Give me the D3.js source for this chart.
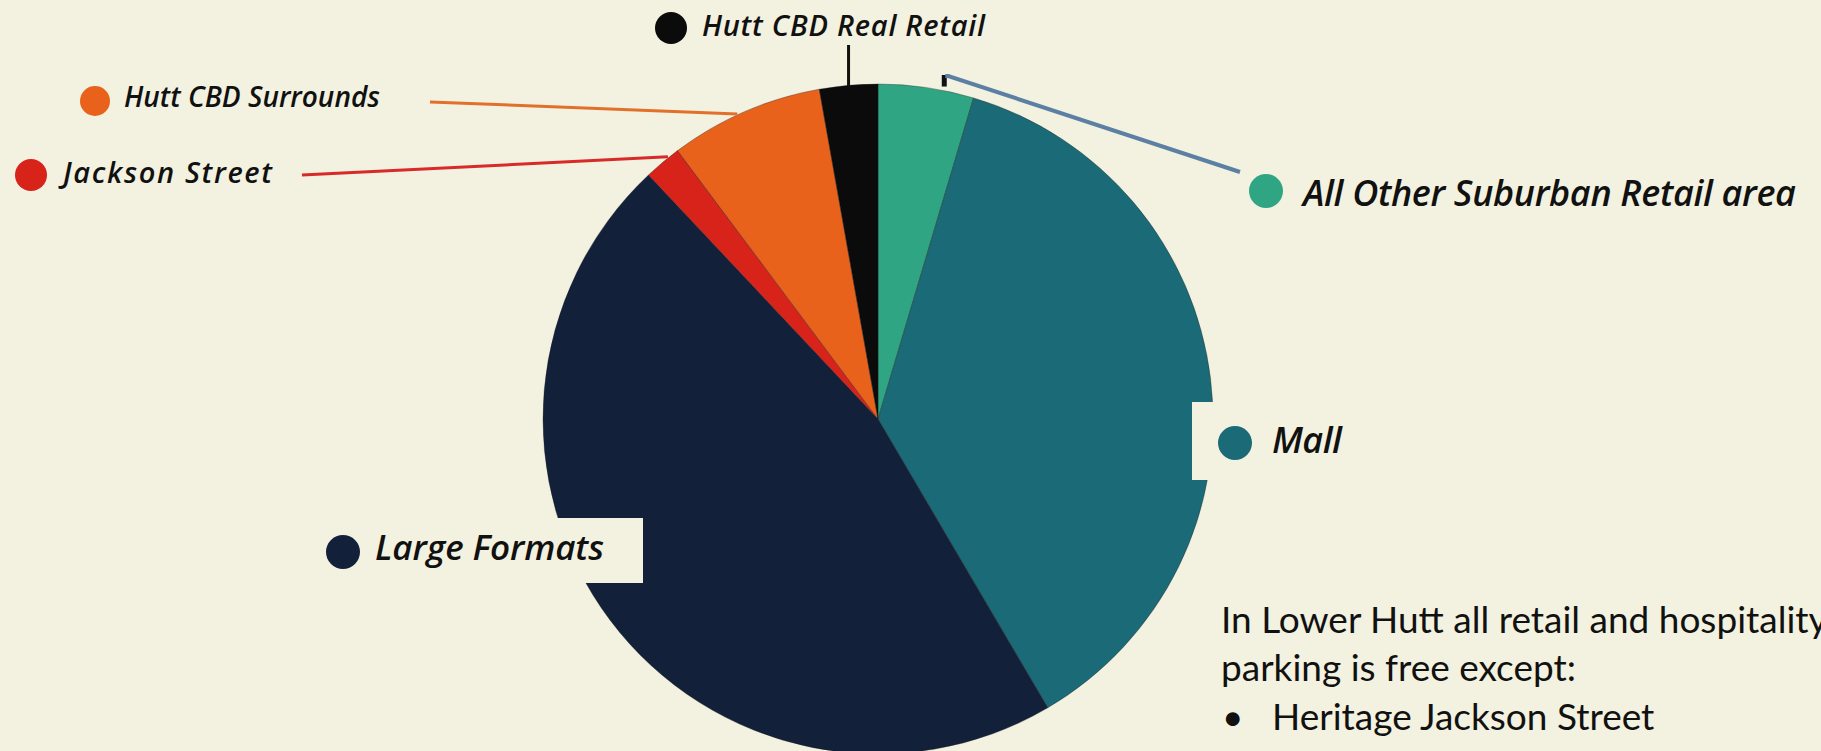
<!DOCTYPE html>
<html>
<head>
<meta charset="utf-8">
<script src="https://cdn.jsdelivr.net/npm/d3@7"></script>
<style>
  body { margin: 0; overflow: hidden; background: #f3f1df; }
  .label { font-family: "Open Sans", Lato, sans-serif; font-style: italic; font-weight: 600; fill: #111; }
  .note { font-family: Lato, "Open Sans", sans-serif; fill: #111; font-size: 37px; }
</style>
</head>
<body>
<div id="chart"></div>
<script>
// Share of retail parking by area (in %)
const categories = ["All Other Suburban Retail area", "Mall", "Large Formats", "Jackson Street", "Hutt CBD Surrounds", "Hutt CBD Real Retail"];
const shares = [4.6, 36.9, 46.4, 1.8, 7.4, 2.8];
const colors = ["#2fa583", "#1b6a78", "#12203a", "#d8231b", "#e8621c", "#0b0b0b"];
const noteLines = ["In Lower Hutt all retail and hospitality", "parking is free except:"];
const noteBullets = ["Heritage Jackson Street"];

const width = 1821;
const height = 751;
const bg = "#f3f1df";

const svg = d3.select("#chart").append("svg")
    .attr("width", width)
    .attr("height", height);

svg.append("rect")
    .attr("width", width)
    .attr("height", height)
    .attr("fill", bg);

// Pie
const cx = 878, cy = 419, radius = 335;

const pie = d3.pie().sort(null).value(d => d.value);
const arc = d3.arc().innerRadius(0).outerRadius(radius);

const data = categories.map((c, i) => ({ name: c, value: shares[i], color: colors[i] }));
const arcs = pie(data);

const g = svg.append("g").attr("transform", `translate(${cx},${cy})`);

g.selectAll("path")
    .data(arcs)
    .join("path")
    .attr("d", arc)
    .attr("fill", d => d.data.color)
    .attr("stroke", "#1c1c1c")
    .attr("stroke-opacity", 0.35)
    .attr("stroke-width", 1);

// point on the pie rim at a fraction of a slice
function rim(i, frac, extra = 0) {
    const a = arcs[i].startAngle + frac * (arcs[i].endAngle - arcs[i].startAngle);
    const r = radius + extra;
    return [cx + r * Math.sin(a), cy - r * Math.cos(a)];
}

// Label layout (positions only)
const labels = [
    { i: 0, dot: [1266, 191], text: [1303, 206], size: 36, r: 17, w: 493 },
    { i: 1, dot: [1235, 443], text: [1272, 453], size: 36, r: 17, w: 70 },
    { i: 2, dot: [343, 552], text: [375, 560], size: 35, r: 17, w: 229 },
    { i: 3, dot: [31, 175], text: [63, 183], size: 29, r: 16, w: 209 },
    { i: 4, dot: [95, 101], text: [124, 107], size: 28, r: 15, w: 256 },
    { i: 5, dot: [671, 28], text: [702, 36], size: 29, r: 16, w: 283 }
];

// boxes in the page colour behind the two labels that sit on the pie
svg.append("rect")
    .attr("x", 1192).attr("y", 402)
    .attr("width", 220).attr("height", 78)
    .attr("fill", bg);
svg.append("rect")
    .attr("x", 300).attr("y", 518)
    .attr("width", 343).attr("height", 65)
    .attr("fill", bg);

// Leader lines
const lines = svg.append("g").attr("fill", "none");

// Hutt CBD Real Retail: vertical from label down to rim
const p5 = rim(5, 0.5);
lines.append("line")
    .attr("x1", p5[0]).attr("y1", 45)
    .attr("x2", p5[0]).attr("y2", p5[1] + 2)
    .attr("stroke", "#111").attr("stroke-width", 3);

// Hutt CBD Surrounds
const p4 = rim(4, 0.45, 1);
lines.append("line")
    .attr("x1", 430).attr("y1", 102)
    .attr("x2", p4[0]).attr("y2", p4[1])
    .attr("stroke", "#e2702a").attr("stroke-width", 3);

// Jackson Street
const p3 = rim(3, 0.7, 1);
lines.append("line")
    .attr("x1", 302).attr("y1", 175)
    .attr("x2", p3[0]).attr("y2", p3[1])
    .attr("stroke", "#d92a2a").attr("stroke-width", 3);

// All Other Suburban: black tick on the rim plus blue line
const p0 = rim(0, 0.68, 4);
lines.append("line")
    .attr("x1", p0[0]).attr("y1", p0[1])
    .attr("x2", p0[0]).attr("y2", 75)
    .attr("stroke", "#111").attr("stroke-width", 5);
lines.append("polyline")
    .attr("points", `${p0[0] + 1},76 ${p0[0] + 4},76 1240,172`)
    .attr("stroke", "#5b80a4").attr("stroke-width", 4);

// Dots and texts
svg.selectAll("circle.dot")
    .data(labels)
    .join("circle")
    .attr("class", "dot")
    .attr("cx", d => d.dot[0])
    .attr("cy", d => d.dot[1])
    .attr("r", d => d.r)
    .attr("fill", d => colors[d.i]);

svg.selectAll("text.label")
    .data(labels)
    .join("text")
    .attr("class", "label")
    .attr("x", d => d.text[0])
    .attr("y", d => d.text[1])
    .attr("textLength", d => d.w)
    .attr("lengthAdjust", "spacing")
    .style("font-size", d => d.size + "px")
    .text(d => categories[d.i]);

// Note at the bottom right
const note = svg.append("g").attr("class", "note");
noteLines.forEach((t, k) => {
    note.append("text")
        .attr("x", 1221)
        .attr("y", 633 + k * 48)
        .text(t);
});
noteBullets.forEach((t, k) => {
    const y = 730 + k * 48;
    note.append("text").attr("x", 1222).attr("y", y).text("\u2022");
    note.append("text").attr("x", 1272).attr("y", y).text(t);
});
</script>
</body>
</html>
